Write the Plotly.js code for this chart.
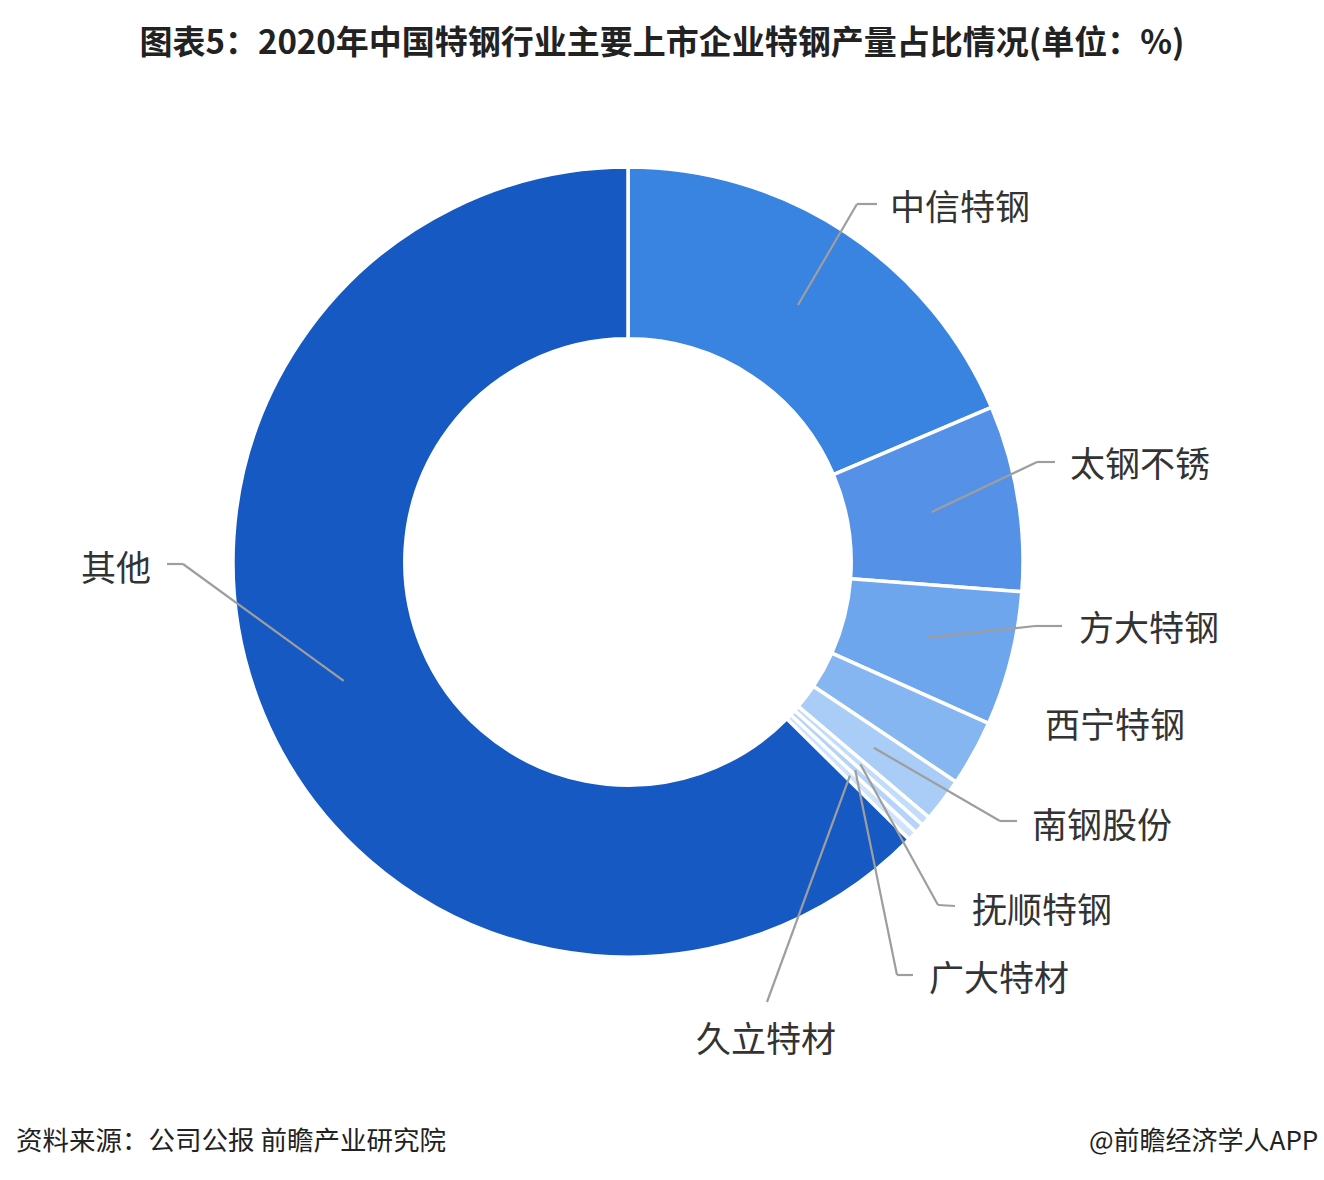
<!DOCTYPE html>
<html>
<head>
<meta charset="utf-8">
<script src="https://cdn.plot.ly/plotly-3.0.1.min.js"></script>
<style>html,body{margin:0;padding:0;background:#fff;}#chart{width:1324px;height:1180px;}</style>
</head>
<body>
<div id="chart"></div>
<script>
// ---- data ----
const labels = ['中信特钢','太钢不锈','方大特钢','西宁特钢','南钢股份','抚顺特钢','广大特材','久立特材','其他'];
const values = [18.6, 7.6, 5.5, 2.7, 1.8, 0.4, 0.4, 0.4, 62.6];
const colors = ['#3983E1','#5592E7','#6EA6EE','#86B6F1','#AACDF7','#C2DDF9','#B5D4F7','#CFE4FA','#1659C3'];
const titleText = '图表5：2020年中国特钢行业主要上市企业特钢产量占比情况(单位：%)';
const sourceText = '资料来源：公司公报 前瞻产业研究院';
const brandText = '@前瞻经济学人APP';

// ---- layout geometry (pixels) ----
const W = 1324, H = 1180;
const CX = 628, CY = 562, R = 395, HOLE = 0.565;
const LEAD_R = 0.78; // fraction of R where leader lines start
// label placement: [elbowX, elbowY, endX, endY, textX, textY, xanchor] (null = no line)
const labelPos = [
  [857, 204, 877, 204, 888, 205, 'left'],
  [1037, 462, 1055, 462, 1068, 461, 'left'],
  [1035, 626, 1062, 626, 1077, 625, 'left'],
  null,
  [1000, 821, 1017, 821, 1030, 822, 'left'],
  [938, 905, 955, 906, 970, 907, 'left'],
  [897, 975, 913, 975, 927, 975, 'left'],
  [767, 1002, 767, 1002, 766, 1036, 'center'],
  [183, 564, 167, 564, 153, 565, 'right']
];
const noLineText = [1043, 722, 'left'];

const px = x => x / W;
const py = y => 1 - y / H;

const labelFont = {family: 'Noto Sans CJK SC', size: 35, color: '#333333'};
const total = values.reduce((a, b) => a + b, 0);
let cum = 0;
const shapes = [];
const annotations = [];
values.forEach((v, i) => {
  const mid = (cum + v / 2) / total * 2 * Math.PI;
  cum += v;
  const sx = CX + R * LEAD_R * Math.sin(mid);
  const sy = CY - R * LEAD_R * Math.cos(mid);
  const lp = labelPos[i];
  const lineStyle = {color: '#9E9E9E', width: 2.2};
  if (lp) {
    shapes.push({type: 'line', xref: 'paper', yref: 'paper', x0: px(sx), y0: py(sy), x1: px(lp[0]), y1: py(lp[1]), line: lineStyle});
    if (lp[0] !== lp[2] || lp[1] !== lp[3]) {
      shapes.push({type: 'line', xref: 'paper', yref: 'paper', x0: px(lp[0]), y0: py(lp[1]), x1: px(lp[2]), y1: py(lp[3]), line: lineStyle});
    }
    annotations.push({xref: 'paper', yref: 'paper', x: px(lp[4]), y: py(lp[5]), xanchor: lp[6], yanchor: 'middle',
      text: labels[i], showarrow: false, font: labelFont});
  } else {
    annotations.push({xref: 'paper', yref: 'paper', x: px(noLineText[0]), y: py(noLineText[1]), xanchor: noLineText[2], yanchor: 'middle',
      text: labels[i], showarrow: false, font: labelFont});
  }
});

annotations.push({xref: 'paper', yref: 'paper', x: px(14), y: py(1138), xanchor: 'left', yanchor: 'middle',
  text: sourceText, showarrow: false, font: {family: 'Noto Sans CJK SC', size: 26.5, color: '#222222'}});
annotations.push({xref: 'paper', yref: 'paper', x: px(1320), y: py(1138), xanchor: 'right', yanchor: 'middle',
  text: brandText, showarrow: false, font: {family: 'Noto Sans CJK SC', size: 26, color: '#222222'}});

const trace = {
  type: 'pie',
  labels: labels,
  values: values,
  hole: HOLE,
  sort: false,
  direction: 'clockwise',
  rotation: 0,
  textinfo: 'none',
  hoverinfo: 'label+percent',
  marker: {colors: colors, line: {color: '#ffffff', width: 3.5}},
  domain: {x: [(CX - R) / W, (CX + R) / W], y: [1 - (CY + R) / H, 1 - (CY - R) / H]}
};

const layout = {
  width: W, height: H,
  margin: {l: 0, r: 0, t: 0, b: 0},
  paper_bgcolor: '#ffffff',
  showlegend: false,
  title: {text: '<b>' + titleText + '</b>', x: 0.5, xanchor: 'center', y: py(42), yanchor: 'middle', yref: 'paper',
    font: {family: 'Noto Sans CJK SC', size: 33, color: '#222222'}},
  shapes: shapes,
  annotations: annotations
};

Plotly.newPlot('chart', [trace], layout, {displayModeBar: false, staticPlot: true});
</script>
</body>
</html>
